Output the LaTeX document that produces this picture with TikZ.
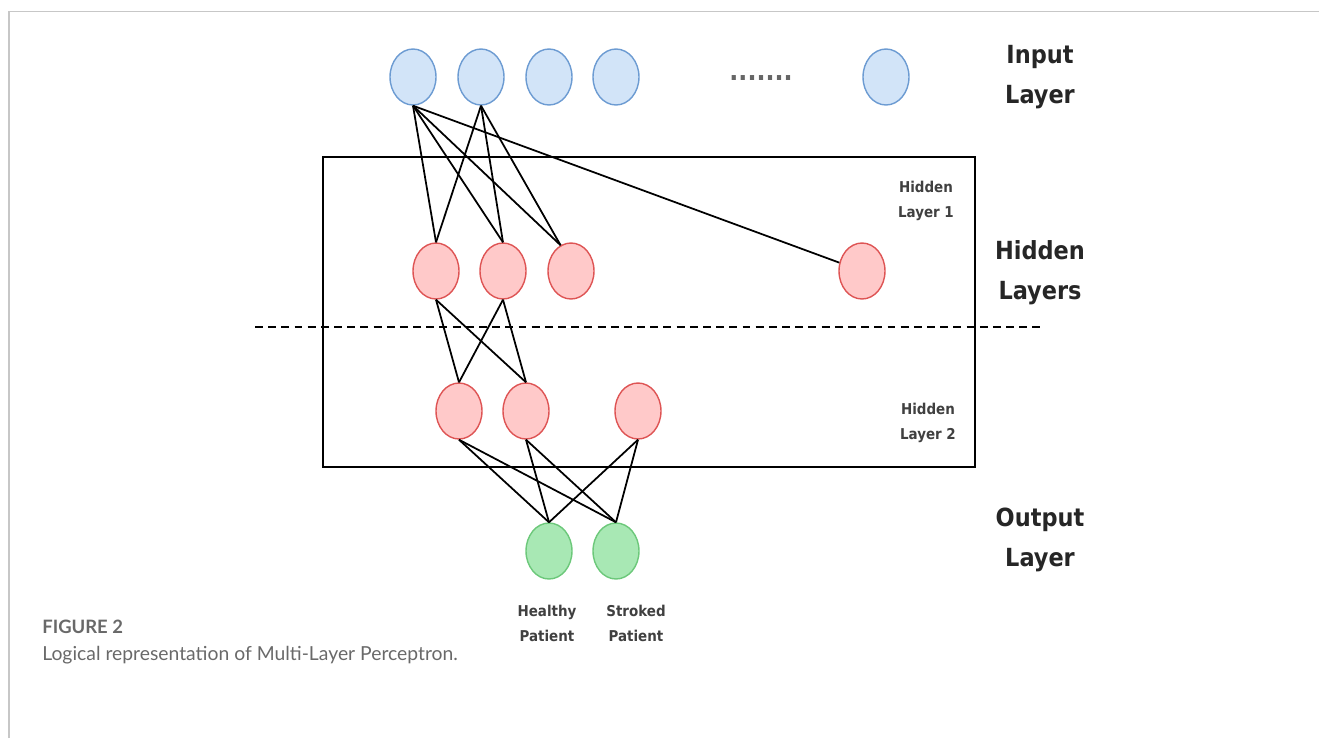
\documentclass[tikz,border=0pt]{standalone}
\usepackage{fontspec}
\setmainfont{DejaVu Sans Condensed}
\newfontfamily\capfont{Lato}
\usetikzlibrary{shapes.geometric}
\definecolor{infill}{RGB}{210,228,248}
\definecolor{indraw}{RGB}{108,155,210}
\definecolor{hidfill}{RGB}{255,201,201}
\definecolor{hiddraw}{RGB}{222,84,84}
\definecolor{outfill}{RGB}{168,232,180}
\definecolor{outdraw}{RGB}{108,200,122}
\definecolor{capgray}{RGB}{105,105,105}
\begin{document}
\begin{tikzpicture}[x=0.02cm, y=-0.02cm,
  unit/.style={draw, ellipse, minimum width=0.92cm, minimum height=1.12cm, inner sep=0pt, line width=0.8pt},
  inunit/.style={unit, draw=indraw, fill=infill},
  hidunit/.style={unit, draw=hiddraw, fill=hidfill},
  outunit/.style={unit, draw=outdraw, fill=outfill},
  link/.style={black, line width=1pt},
  biglabel/.style={font=\bfseries\fontsize{14.2}{22.7}\selectfont, align=center, text=black!85},
  smalllabel/.style={font=\bfseries\fontsize{8.5}{14.2}\selectfont, align=center, text=black!75}]
    \useasboundingbox (0,0) rectangle (1319,738);
    % Frame
    \draw[black!22, line width=1pt] (9,738) -- (9,11.5) -- (1319,11.5);

    % Input layer
    \foreach \n/\x in {1/413, 2/481, 3/549, 4/616, 5/886} {
      \node[inunit] (in\n) at (\x, 77) {};
    }
    \node[font=\bfseries\fontsize{15}{20}\selectfont, text=black!60] (dots) at (761, 78) {.......};
    \node[biglabel] (inlabel) at (1040, 77) {Input\\Layer};

    % Hidden layers
    \draw[line width=1.1pt] (323,157) rectangle (975,467);
    \draw[line width=1.1pt, dash pattern=on 4.5pt off 3pt] (255,327) -- (1045,327);
    \foreach \n/\x in {1/436, 2/503, 3/571, 4/862} {
      \node[hidunit] (ha\n) at (\x, 271) {};
    }
    \foreach \n/\x in {1/459, 2/526, 3/638} {
      \node[hidunit] (hb\n) at (\x, 411) {};
    }
    \node[smalllabel] (halabel) at (926, 201) {Hidden\\Layer 1};
    \node[smalllabel] (hblabel) at (928, 423) {Hidden\\Layer 2};
    \node[biglabel] (hidlabel) at (1040, 273) {Hidden\\Layers};

    % Output layer
    \foreach \n/\x in {1/549, 2/616} {
      \node[outunit] (out\n) at (\x, 551) {};
    }
    \node[smalllabel] (healthy) at (547, 623) {Healthy\\Patient};
    \node[smalllabel] (stroked) at (636, 623) {Stroked\\Patient};
    \node[biglabel] (outlabel) at (1040, 540) {Output\\Layer};

    % Connections
    \foreach \i in {1, 2} {
      \foreach \j/\a in {1/90, 2/90, 3/112} {
        \draw[link] (in\i.south) -- (ha\j.\a);
      }
    }
    \draw[link] (in1.south) -- (ha4);
    \foreach \i in {1, 2} {
      \foreach \j in {1, 2} {
        \draw[link] (ha\i.south) -- (hb\j.north);
      }
    }
    \foreach \i in {1, ..., 3} {
      \foreach \j in {1, 2} {
        \draw[link] (hb\i.south) -- (out\j.north);
      }
    }

    % Caption
    \node[anchor=west, inner sep=0pt, text=capgray, font=\capfont\bfseries\fontsize{10.5}{12}\selectfont] (fig) at (42, 627) {FIGURE 2};
    \node[anchor=west, inner sep=0pt, text=capgray, font=\capfont\fontsize{11}{12}\selectfont] (caption) at (42, 655) {Logical representation of Multi-Layer Perceptron.};
\end{tikzpicture}
\end{document}
